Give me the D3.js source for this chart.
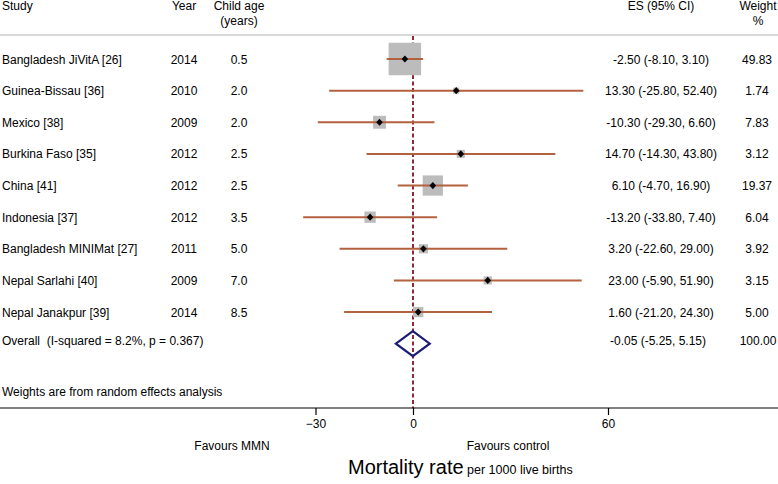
<!DOCTYPE html>
<html>
<head>
<meta charset="utf-8">
<script src="https://cdn.jsdelivr.net/npm/d3@7/dist/d3.min.js"></script>
<style>
  body { margin: 0; background: white; }
  text { font-family: "Liberation Sans", Arial, Helvetica, sans-serif; fill: black; }
</style>
</head>
<body>
<svg class="canvas"></svg>
<script>
//data
let studies = ["Bangladesh JiVitA [26]", "Guinea-Bissau [36]", "Mexico [38]", "Burkina Faso [35]", "China [41]",
               "Indonesia [37]", "Bangladesh MINIMat [27]", "Nepal Sarlahi [40]", "Nepal Janakpur [39]"];
let years = [2014, 2010, 2009, 2012, 2012, 2012, 2011, 2009, 2014];
let ages = [0.5, 2.0, 2.0, 2.5, 2.5, 3.5, 5.0, 7.0, 8.5];
let es = [-2.50, 13.30, -10.30, 14.70, 6.10, -13.20, 3.20, 23.00, 1.60];
let lo = [-8.10, -25.80, -29.30, -14.30, -4.70, -33.80, -22.60, -5.90, -21.20];
let hi = [3.10, 52.40, 6.60, 43.80, 16.90, 7.40, 29.00, 51.90, 24.30];
let weights = [49.83, 1.74, 7.83, 3.12, 19.37, 6.04, 3.92, 3.15, 5.00];
let overall = {es: -0.05, lo: -5.25, hi: 5.15, weight: 100.00};
let overallLabel = "Overall\u00a0\u00a0(I-squared = 8.2%, p = 0.367)";
let tickValues = [-30, 0, 60];

//params
let width = 778;
let height = 484;
let x0 = 413;        // pixel of 0
let pxPerUnit = 3.25;
let ciColor = "#b3623f";
let boxColor = "#bcbcbc";
let refColor = "#8b2a3a";
let diamondColor = "#1c1c78";
//----------

let x = d3.scaleLinear().domain([0, 60]).range([x0, x0 + 60 * pxPerUnit]);
let y = d3.scaleLinear().domain([0, 9]).range([59, 343.7]);
let box = d3.scaleSqrt().domain([0, 49.83]).range([0, 32.5]);

let svg = d3.select(".canvas")
    .attr("width", width)
    .attr("height", height);

// header
let header = svg.append("g").style("font-size", "12px");
header.append("text").attr("x", 2).attr("y", 10).text("Study");
header.append("text").attr("x", 184).attr("y", 10).attr("text-anchor", "middle").text("Year");
header.append("text").attr("x", 239).attr("y", 10).attr("text-anchor", "middle").text("Child age");
header.append("text").attr("x", 239).attr("y", 25).attr("text-anchor", "middle").text("(years)");
header.append("text").attr("x", 661).attr("y", 10).attr("text-anchor", "middle").text("ES (95% CI)");
header.append("text").attr("x", 758).attr("y", 10).attr("text-anchor", "middle").text("Weight");
header.append("text").attr("x", 758).attr("y", 25).attr("text-anchor", "middle").text("%");

svg.append("line")
    .attr("x1", 0).attr("x2", width)
    .attr("y1", 35).attr("y2", 35)
    .attr("stroke", "#b5b5b5").attr("stroke-width", 1);

// reference line at zero
svg.append("line")
    .attr("x1", x(0)).attr("x2", x(0))
    .attr("y1", 36).attr("y2", 408)
    .attr("stroke", refColor).attr("stroke-width", 2)
    .attr("stroke-dasharray", "4,2.5");

let idx = d3.range(studies.length);

// boxes
svg.selectAll(".box")
    .data(idx)
    .enter()
    .append("rect")
    .attr("class", "box")
    .attr("x", function(i) {return x(es[i]) - box(weights[i]) / 2})
    .attr("y", function(i) {return y(i) - box(weights[i]) / 2})
    .attr("width", function(i) {return box(weights[i])})
    .attr("height", function(i) {return box(weights[i])})
    .attr("fill", boxColor);

// confidence intervals
svg.selectAll(".ci")
    .data(idx)
    .enter()
    .append("line")
    .attr("class", "ci")
    .attr("x1", function(i) {return x(lo[i])})
    .attr("x2", function(i) {return x(hi[i])})
    .attr("y1", function(i) {return y(i)})
    .attr("y2", function(i) {return y(i)})
    .attr("stroke", ciColor).attr("stroke-width", 2);

// point estimates
svg.selectAll(".pt")
    .data(idx)
    .enter()
    .append("path")
    .attr("class", "pt")
    .attr("d", function(i) {
        let cx = x(es[i]), cy = y(i);
        return "M" + (cx - 3.3) + "," + cy + "L" + cx + "," + (cy - 3.6) +
               "L" + (cx + 3.3) + "," + cy + "L" + cx + "," + (cy + 3.6) + "Z";
    })
    .attr("fill", "black");

// overall diamond
let oy = y(9);
svg.append("path")
    .attr("d", "M" + x(overall.lo) + "," + oy + "L" + x(overall.es) + "," + (oy - 12.5) +
               "L" + x(overall.hi) + "," + oy + "L" + x(overall.es) + "," + (oy + 12.5) + "Z")
    .attr("fill", "none")
    .attr("stroke", diamondColor).attr("stroke-width", 2.2);

// row text
let rows = svg.append("g").style("font-size", "12px");
idx.forEach(function(i) {
    let ty = y(i) + 4.5;
    rows.append("text").attr("x", 2).attr("y", ty).text(studies[i]);
    rows.append("text").attr("x", 184).attr("y", ty).attr("text-anchor", "middle").text(years[i]);
    rows.append("text").attr("x", 239).attr("y", ty).attr("text-anchor", "middle").text(ages[i].toFixed(1));
    rows.append("text").attr("x", 661).attr("y", ty).attr("text-anchor", "middle")
        .text(es[i].toFixed(2) + " (" + lo[i].toFixed(2) + ", " + hi[i].toFixed(2) + ")");
    rows.append("text").attr("x", 757).attr("y", ty).attr("text-anchor", "middle").text(weights[i].toFixed(2));
});
rows.append("text").attr("x", 2).attr("y", oy + 1).text(overallLabel);
rows.append("text").attr("x", 658).attr("y", oy + 1).attr("text-anchor", "middle")
    .text(overall.es.toFixed(2) + " (" + overall.lo.toFixed(2) + ", " + overall.hi.toFixed(2) + ")");
rows.append("text").attr("x", 758).attr("y", oy + 1).attr("text-anchor", "middle").text(overall.weight.toFixed(2));
rows.append("text").attr("x", 2).attr("y", 396).text("Weights are from random effects analysis");

// axis
svg.append("line")
    .attr("x1", 0).attr("x2", width)
    .attr("y1", 408).attr("y2", 408)
    .attr("stroke", "black").attr("stroke-width", 1.2);

let axis = d3.axisBottom(x).tickValues(tickValues).tickSize(7).tickPadding(4).tickFormat(d3.format("d"));
let ax = svg.append("g").attr("transform", "translate(0,408)").call(axis);
ax.select(".domain").remove();
ax.selectAll(".tick line").attr("stroke", "black").attr("stroke-width", 1.2);
ax.selectAll(".tick text").style("font-size", "12px").style("font-family", "'Liberation Sans', Arial, sans-serif");

svg.append("text").attr("x", 232).attr("y", 450).attr("text-anchor", "middle").style("font-size", "12px").text("Favours MMN");
svg.append("text").attr("x", 508).attr("y", 450).attr("text-anchor", "middle").style("font-size", "12px").text("Favours control");

let title = svg.append("text").attr("x", 348).attr("y", 474);
title.append("tspan").style("font-size", "20px").text("Mortality rate");
title.append("tspan").style("font-size", "12.5px").text(" per 1000 live births");
</script>
</body>
</html>
